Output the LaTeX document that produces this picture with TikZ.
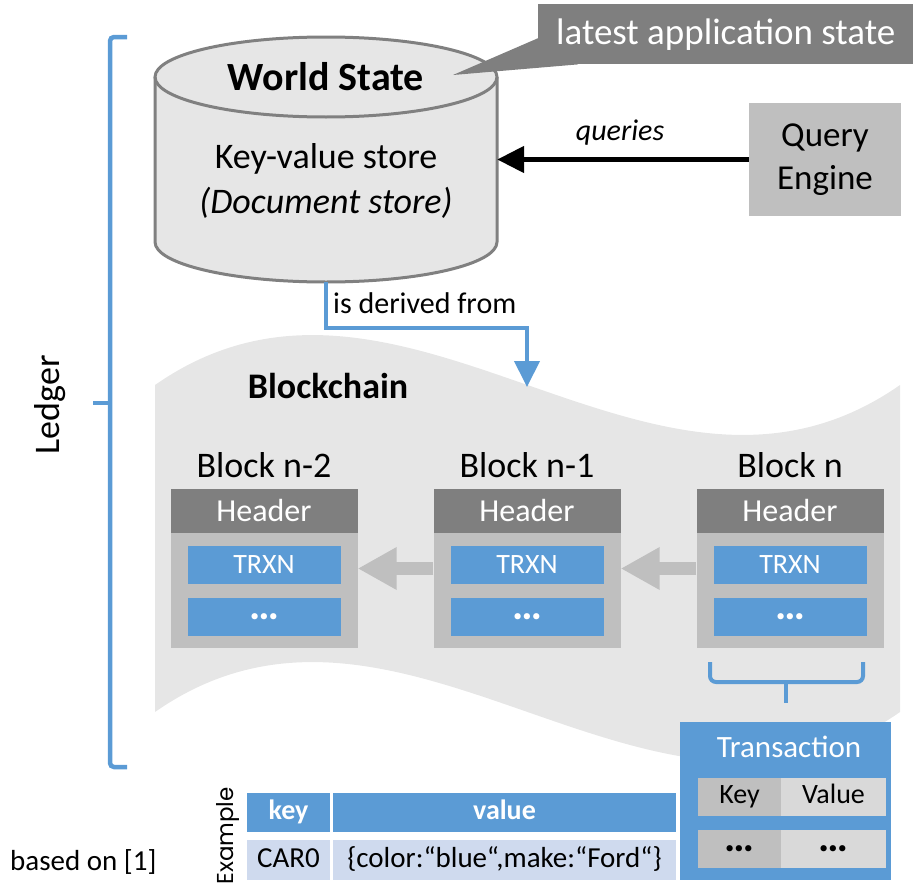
\documentclass[tikz,border=0pt]{standalone}
\usepackage{fontspec}
\setmainfont{Carlito}
\newfontfamily\examplefont{Poppins}
\usetikzlibrary{arrows.meta,calc,positioning}

\definecolor{ledgerblue}{HTML}{5B9BD5}
\definecolor{darkgrey}{HTML}{7F7F7F}
\definecolor{midgrey}{HTML}{BFBFBF}
\definecolor{lightgrey}{HTML}{E6E6E6}
\definecolor{cellgrey}{HTML}{D9D9D9}
\definecolor{rowblue}{RGB}{207,218,238}
\definecolor{cylline}{HTML}{808080}

\begin{document}
\begin{tikzpicture}[x=1pt, y=-1pt,
    every node/.style={inner sep=0pt},
    txtbig/.style={font=\fontsize{36}{45}\selectfont},
    txtmid/.style={font=\fontsize{30}{36}\selectfont},
    txtsmall/.style={font=\fontsize{28}{34}\selectfont},
    dotsfont/.style={font=\fontsize{42}{34}\selectfont\bfseries},
    blueline/.style={draw=ledgerblue, line width=4.5pt},
    blockbody/.style={fill=midgrey, minimum width=187pt, minimum height=159pt},
    blockhead/.style={fill=darkgrey, text=white, minimum width=187pt, minimum height=44pt, font=\fontsize{32}{38}\selectfont},
    trxcell/.style={fill=ledgerblue, text=white, minimum width=153pt, minimum height=38pt, txtsmall},
    chainarrow/.style={draw=midgrey, line width=13pt, -{Triangle[length=39pt,width=40pt]}},
    tabhead/.style={fill=ledgerblue, text=white, minimum height=39pt, text height=19pt, text depth=6pt, font=\fontsize{28}{34}\selectfont\bfseries},
    tabrow/.style={fill=rowblue, minimum height=40pt, text height=20pt, text depth=6pt, font=\fontsize{29}{34}\selectfont},
    txcell/.style={minimum height=38pt, text height=19pt, text depth=6pt, txtsmall}]
    \useasboundingbox (0,0) rectangle (913,886);

    % Ledger
    \coordinate (ldtop) at (127,37);
    \coordinate (ldbot) at (127,767);
    \draw[blueline, rounded corners=4pt] (ldtop) -- (110,37) -- (110,767) -- (ldbot);
    \draw[blueline] (110,403) -- (93,403);
    \node[txtbig, rotate=90] (ledger) at (50,405) {Ledger};

    % World State
    \path[fill=lightgrey] (155,77) -- (155,242) arc[start angle=180, end angle=0, x radius=171, y radius=40]
        -- (497,77) arc[start angle=0, end angle=-180, x radius=171, y radius=40] -- cycle;
    \draw[cylline, line width=3pt] (155,77) -- (155,242) arc[start angle=180, end angle=0, x radius=171, y radius=40] -- (497,77);
    \draw[cylline, line width=3pt] (326,77) ellipse[x radius=171, y radius=40];
    \node[minimum width=342pt, minimum height=245pt] (ws) at (326,159.5) {};
    \node[font=\fontsize{40}{48}\selectfont\bfseries] (wstitle) at (326,77) {World State};
    \node[txtbig, align=center] (wstext) at (326,181) {Key-value store\\\textit{(Document store)}};

    \node[fill=darkgrey, text=white, font=\fontsize{37}{45}\selectfont, minimum width=375pt, minimum height=60pt, anchor=north west] (las) at (538,4) {latest application state};
    \coordinate (lastip) at (453,75);
    \fill[darkgrey] ($(las.west)+(0,4)$) -- (lastip) -- ($(las.south west)+(40,0)$) -- cycle;

    \node[fill=midgrey, align=center, font=\fontsize{35}{43}\selectfont, minimum width=152pt, minimum height=113pt] (qe) at (825,159.5) {Query\\Engine};
    \draw[line width=5pt, -{Triangle[length=27pt,width=26pt]}] (qe.west) -- (qe.west -| ws.east);
    \node[font=\fontsize{30}{36}\selectfont\itshape] (qlbl) at (620,133) {queries};

    % Blockchain
    \fill[lightgrey] (155,385) .. controls (403,212) and (652,558) .. (900,385) -- (900,712)
        .. controls (652,885) and (403,539) .. (155,712) -- cycle;
    \node[font=\fontsize{36}{45}\selectfont\bfseries] (bclbl) at (328,386) {Blockchain};
    \coordinate (bctip) at (527,387);
    \draw[blueline, line width=4pt, -{Triangle[length=26pt,width=25pt]}] (ws.south) -- ++(0,46) -| (bctip);
    \node[txtmid, anchor=west] (derived) at (333,303) {is derived from};

    \foreach \i/\x/\lbl in {0/264/{Block n-2}, 1/527/{Block n-1}, 2/790/{Block n}} {
        \node[blockbody] (blk\i) at (\x,568.5) {};
        \node[blockhead] (hdr\i) at (\x,511) {Header};
        \node[trxcell] (trx\i) at (\x,565) {TRXN};
        \node[trxcell, dotsfont] (dots\i) at (\x,617) {…};
        \node[txtbig] (ttl\i) at (\x,465) {\lbl};
    }
    \draw[chainarrow] (blk1.west) -- (blk0.east);
    \draw[chainarrow] (blk2.west) -- (blk1.east);

    % Transaction
    \coordinate (brL) at (710,662);
    \coordinate (brR) at (863,662);
    \coordinate (brmid) at (786,682);
    \draw[blueline, line width=4pt, rounded corners=6pt] (brL) -- ++(0,20) -| (brR);
    \draw[blueline, line width=4pt] (brmid) -- ++(0,21);
    \node[fill=ledgerblue, minimum width=211pt, minimum height=158pt] (txbox) at (785.5,801) {};
    \node[text=white, font=\fontsize{31}{37}\selectfont] (txttl) at (789,747) {Transaction};
    \node[txcell, fill=midgrey, minimum width=83pt] (txkey) at (739.5,797) {Key};
    \node[txcell, fill=cellgrey, minimum width=105pt] (txval) at (833.5,797) {Value};
    \node[fill=midgrey, minimum width=83pt, minimum height=38pt, dotsfont] (txkdots) at (739.5,848.5) {…};
    \node[fill=cellgrey, minimum width=105pt, minimum height=38pt, dotsfont] (txvdots) at (833.5,848.5) {…};

    % Example
    \node[font=\examplefont\fontsize{23}{28}\selectfont, rotate=90] (example) at (228,836) {Example};
    \node[tabhead, minimum width=83pt] (khead) at (288.5,812.5) {key};
    \node[tabhead, minimum width=343pt] (vhead) at (504.5,812.5) {value};
    \node[tabrow, minimum width=83pt] (kcell) at (288.5,860) {CAR0};
    \node[tabrow, minimum width=343pt] (vcell) at (504.5,860) {\{color:“blue“,make:“Ford“\}};

    \node[font=\fontsize{29}{34}\selectfont, anchor=west] (basedon) at (10,862) {based on [1]};
\end{tikzpicture}
\end{document}
